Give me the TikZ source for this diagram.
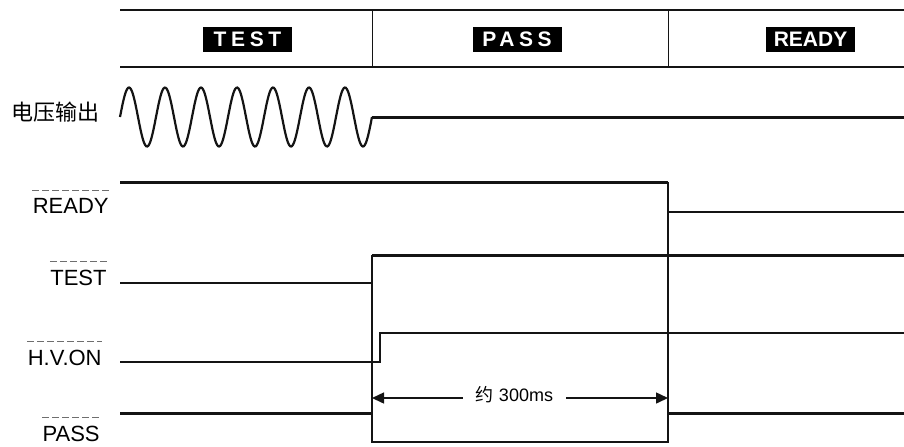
\documentclass[tikz,border=0pt]{standalone}
\usepackage{fontspec}
\setmainfont{Liberation Sans}
\newfontfamily\cjkfont{Noto Sans CJK SC}
\usetikzlibrary{arrows.meta}
\definecolor{mydark}{RGB}{20,20,20}
\definecolor{mybar}{RGB}{110,110,110}
\tikzset{
  hdrline/.style={line width=0.75pt, color=mydark},
  hdrdiv/.style={line width=0.5pt, color=mydark},
  hdrbox/.style={rectangle, fill=black, text=white, inner sep=0pt,
    minimum width=44.5pt, minimum height=12.5pt,
    font=\bfseries\fontsize{10.5}{12}\selectfont},
  siglbl/.style={inner sep=0pt, anchor=east, font=\fontsize{11}{13}\selectfont},
  sigbar/.style={line width=0.4pt, color=mybar, dash pattern=on 3.5pt off 1.5pt},
  sigthick/.style={line width=1.5pt, color=mydark},
  sigthin/.style={line width=0.75pt, color=mydark},
  sigwave/.style={line width=1.1pt, color=mydark},
  dimarrow/.style={-{Triangle[length=6pt, width=5.5pt]}, line width=0.75pt, color=mydark}
}

\begin{document}
\begin{tikzpicture}[x=0.5pt, y=-0.5pt]
  \useasboundingbox (0,0) rectangle (904,446);

  % Header
  \draw[hdrline] (120,10) -- (904,10);
  \draw[hdrline] (120,67) -- (904,67);
  \draw[hdrdiv] (372,10) -- (372,67);
  \draw[hdrdiv] (668,10) -- (668,67);
  \node[hdrbox] (hdrtest) at (247.5,39.5) {\addfontfeature{LetterSpace=22}TEST};
  \node[hdrbox] (hdrpass) at (517,39.5) {\addfontfeature{LetterSpace=22}PASS};
  \node[hdrbox] (hdrready) at (810.5,39.5) {READY};

  % Voltage output
  \node[siglbl, font=\cjkfont\fontsize{11}{13}\selectfont] (lblvolt) at (100,112) {电压输出};
  \draw[sigwave, domain=0:252, samples=250, smooth]
    plot ({120+\x}, {117-29.5*sin(\x*10)});
  \draw[sigthick] (372,117) -- (904,117);

  % Signal labels
  \node[siglbl] (lblready) at (109,206) {READY};
  \node[siglbl] (lbltest) at (107,278) {TEST};
  \node[siglbl] (lblhv) at (102,358) {H.V.ON};
  \node[siglbl] (lblpass) at (100,434) {PASS};
  \foreach \n in {lblready, lbltest, lblhv, lblpass}
    \draw[sigbar] ([yshift=4pt]\n.north west) -- ([yshift=4pt]\n.north east);

  % READY
  \draw[sigthick] (120,182) -- (668,182);
  \draw[sigthin] (668,212) -- (904,212);

  % TEST
  \draw[sigthin] (120,283) -- (372,283);
  \draw[sigthick] (372,255) -- (904,255);

  % H.V.ON
  \draw[sigthin] (120,362) -- (380,362) -- (380,333) -- (904,333);

  % PASS
  \draw[sigthick] (120,413) -- (372,413);
  \draw[sigthin] (372,255) -- (372,442) -- (668,442) -- (668,182);
  \draw[sigthick] (668,413) -- (904,413);

  % Duration
  \coordinate (arrl) at (372,398);
  \coordinate (arrr) at (668,398);
  \node[inner xsep=6.5pt, inner ysep=0pt, font=\fontsize{9}{11}\selectfont] (dur) at (514.5,395)
    {{\cjkfont 约} 300ms};
  \draw[dimarrow] (dur.west |- arrl) -- (arrl);
  \draw[dimarrow] (dur.east |- arrr) -- (arrr);
\end{tikzpicture}
\end{document}
